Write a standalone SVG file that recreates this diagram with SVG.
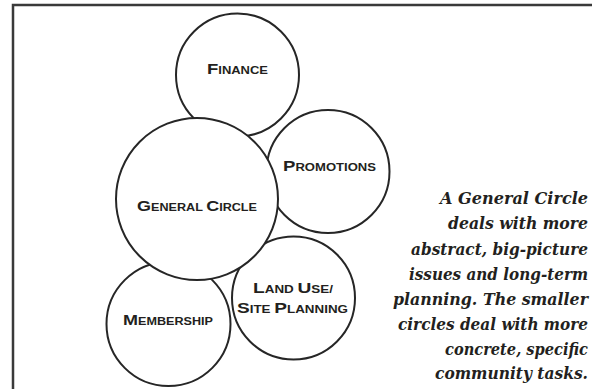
<svg xmlns="http://www.w3.org/2000/svg" width="592" height="389" viewBox="0 0 592 389">
<style>
.c{fill:#fff;stroke:#262626;stroke-width:2}
.l{font-family:"Liberation Sans",Arial,sans-serif;font-weight:bold;fill:#231f20;text-anchor:middle;font-size:10.8px}
.l .b{font-size:15.4px}
.n{font-size:16.5px;fill:#231f20;text-anchor:end}
</style>
<rect width="592" height="389" fill="#fff"/>
<rect x="13" y="5" width="620" height="420" fill="none" stroke="#3a3a3a" stroke-width="2.5"/>
<g id="finance">
<circle class="c" cx="237.5" cy="75" r="61.5"/>
<text class="l" x="237.5" y="74" textLength="61" lengthAdjust="spacingAndGlyphs"><tspan class="b">F</tspan>INANCE</text>
</g>
<g id="promotions">
<circle class="c" cx="328" cy="171.5" r="61.5"/>
<text class="l" x="329.5" y="171" textLength="93" lengthAdjust="spacingAndGlyphs"><tspan class="b">P</tspan>ROMOTIONS</text>
</g>
<g id="membership">
<circle class="c" cx="168.5" cy="324" r="62"/>
<text class="l" x="168" y="325" textLength="90" lengthAdjust="spacingAndGlyphs"><tspan class="b">M</tspan>EMBERSHIP</text>
</g>
<g id="landuse">
<circle class="c" cx="293.5" cy="298" r="61.5"/>
<text class="l" x="293" y="293" textLength="80" lengthAdjust="spacingAndGlyphs"><tspan class="b">L</tspan>AND <tspan class="b">U</tspan>SE/</text>
<text class="l" x="292.5" y="313" textLength="111" lengthAdjust="spacingAndGlyphs"><tspan class="b">S</tspan>ITE <tspan class="b">P</tspan>LANNING</text>
</g>
<g id="general">
<circle class="c" cx="197" cy="199" r="81"/>
<text class="l" x="197" y="211" textLength="120" lengthAdjust="spacingAndGlyphs"><tspan class="b">G</tspan>ENERAL <tspan class="b">C</tspan>IRCLE</text>
</g>
<g id="note" font-family="DejaVu Serif, serif" font-style="italic" font-weight="bold">
<text class="n" x="588" y="203.5" textLength="148" lengthAdjust="spacingAndGlyphs">A General Circle</text>
<text class="n" x="588" y="229" textLength="140" lengthAdjust="spacingAndGlyphs">deals with more</text>
<text class="n" x="588" y="254.5" textLength="177" lengthAdjust="spacingAndGlyphs">abstract, big-picture</text>
<text class="n" x="588" y="279.5" textLength="179" lengthAdjust="spacingAndGlyphs">issues and long-term</text>
<text class="n" x="588" y="305" textLength="195" lengthAdjust="spacingAndGlyphs">planning. The smaller</text>
<text class="n" x="588" y="330" textLength="190" lengthAdjust="spacingAndGlyphs">circles deal with more</text>
<text class="n" x="588" y="355" textLength="143" lengthAdjust="spacingAndGlyphs">concrete, specific</text>
<text class="n" x="588" y="379" textLength="153" lengthAdjust="spacingAndGlyphs">community tasks.</text>
</g>
</svg>
